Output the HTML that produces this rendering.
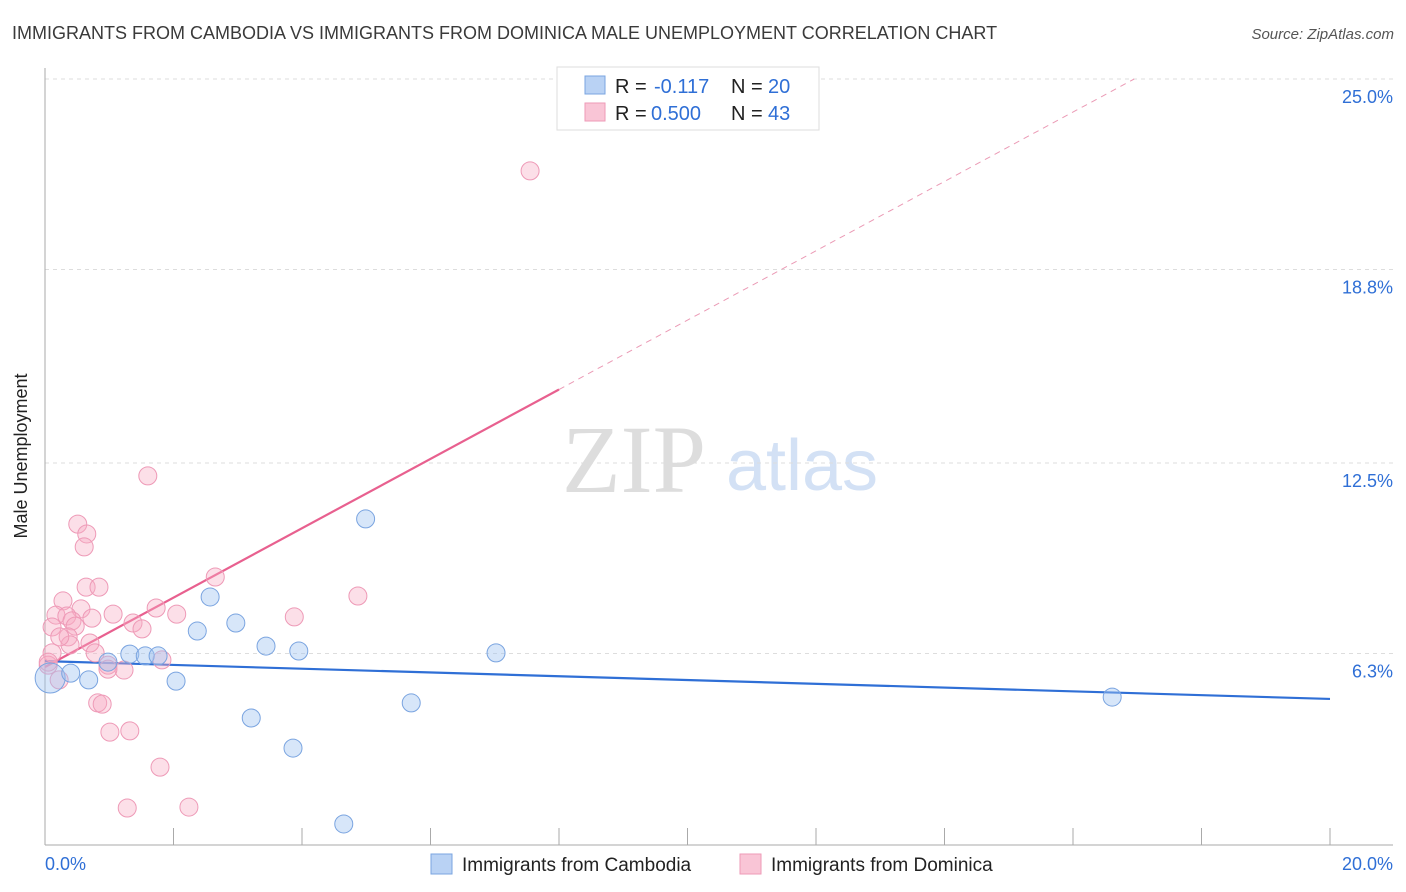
<!DOCTYPE html>
<html><head><meta charset="utf-8"><style>
body{margin:0;background:#fff;font-family:"Liberation Sans",sans-serif;}
svg{display:block}
</style></head><body>
<svg id="chart" width="1406" height="892" xmlns="http://www.w3.org/2000/svg">
<text x="12" y="39" font-size="18" fill="#3a3a3a">IMMIGRANTS FROM CAMBODIA VS IMMIGRANTS FROM DOMINICA MALE UNEMPLOYMENT CORRELATION CHART</text>
<text x="1394" y="39" font-size="15" fill="#555" font-style="italic" text-anchor="end">Source: ZipAtlas.com</text>
<text x="27" y="456" font-size="18" fill="#222" text-anchor="middle" transform="rotate(-90 27 456)">Male Unemployment</text>
<g>
<text x="634" y="492" font-size="96" fill="#ddd" font-family="Liberation Serif,serif" text-anchor="middle">ZIP</text>
<text x="802" y="490" font-size="72" fill="#d3e1f5" text-anchor="middle">atlas</text>
</g>
<g id="grid"></g><g id="axes"></g><g id="lines"></g><g id="pts"></g>
<g>
<rect x="557" y="67" width="262" height="63" fill="#fff" stroke="#ddd"/>
<rect x="585" y="76" width="20" height="18" fill="#b9d2f4" stroke="#7aa4e0"/>
<rect x="585" y="103" width="20" height="18" fill="#f9c5d6" stroke="#ee9ab7"/>
<text x="615" y="93" font-size="20" fill="#222">R =</text>
<text x="654" y="93" font-size="20" fill="#2f6fd6">-0.117</text>
<text x="731" y="93" font-size="20" fill="#222">N =</text>
<text x="768" y="93" font-size="20" fill="#2f6fd6">20</text>
<text x="615" y="120" font-size="20" fill="#222">R =</text>
<text x="651" y="120" font-size="20" fill="#2f6fd6">0.500</text>
<text x="731" y="120" font-size="20" fill="#222">N =</text>
<text x="768" y="120" font-size="20" fill="#2f6fd6">43</text>
</g>
<g>
<rect x="431" y="854" width="21" height="20" fill="#b9d2f4" stroke="#7aa4e0"/>
<text x="462" y="871" font-size="19" fill="#222">Immigrants from Cambodia</text>
<rect x="740" y="854" width="21" height="20" fill="#f9c5d6" stroke="#ee9ab7"/>
<text x="771" y="871" font-size="19" fill="#222">Immigrants from Dominica</text>
</g>
</svg>
<script>
const yTicks=[25.0,18.8,12.5,6.3];
const yTickLabels=["25.0%","18.8%","12.5%","6.3%"];
const xLabels=["0.0%","20.0%"];
const blueX=[0.08,0.40,0.68,0.98,1.32,1.56,1.76,2.04,2.37,2.57,2.97,3.21,3.44,3.86,3.95,4.65,4.99,5.70,7.02,16.61];
const blueY=[5.50,5.66,5.44,6.02,6.28,6.22,6.22,5.40,7.03,8.14,7.29,4.20,6.54,3.22,6.38,0.75,10.68,4.69,6.32,4.88];
const pinkX=[7.55,1.60,0.51,0.65,0.61,0.64,0.84,0.28,0.56,0.17,0.34,0.42,0.73,0.47,0.11,1.06,1.73,2.05,2.65,3.88,4.87,1.37,1.51,0.36,0.39,0.70,0.11,0.78,0.05,0.98,1.23,1.82,0.22,0.82,0.89,1.01,1.32,1.79,1.28,2.24,0.98,0.05,0.23];
const pinkY=[22.01,12.08,10.51,10.19,9.77,8.46,8.46,8.01,7.75,7.55,7.52,7.36,7.45,7.19,7.16,7.58,7.78,7.58,8.79,7.49,8.17,7.29,7.10,6.84,6.58,6.64,6.32,6.32,5.92,5.92,5.76,6.09,5.44,4.69,4.65,3.74,3.78,2.60,1.27,1.30,5.79,6.02,6.84];
const blueTrend=[6.05,4.82];
const pinkTrend=[5.86,1.129];
const X=v=>45+v/20*1285, Y=v=>847-v*30.72;
const NS="http://www.w3.org/2000/svg";
function mk(p,t,a){const e=document.createElementNS(NS,t);for(const k in a)e.setAttribute(k,a[k]);document.getElementById(p).appendChild(e);return e;}
yTicks.forEach((t,i)=>{
 const l=mk('grid','line',{x1:45,x2:1393,y1:Y(t),y2:Y(t),stroke:'#ddd','stroke-dasharray':'4,4'});
 
 
 const tx=mk('grid','text',{x:1393,y:Y(t)+24,'font-size':18,fill:'#2f6fd6','text-anchor':'end'});
 tx.textContent=yTickLabels[i];
 
 
});
const ax=mk('axes','line',{x1:45,x2:45,y1:68,y2:845,stroke:'#aaa'});


const bx=mk('axes','line',{x1:45,x2:1393,y1:845,y2:845,stroke:'#aaa'});


for(let i=0;i<=10;i++){const t=mk('axes','line',{x1:X(i*2),x2:X(i*2),y1:828,y2:845,stroke:'#aaa'});
 
 }
[[0,'start',45],[1,'end',1393]].forEach(([i,a,x])=>{const t=mk('axes','text',{x:x,y:870,'font-size':18,fill:'#2f6fd6','text-anchor':a});t.textContent=xLabels[i];
 
 });
function dot(x,y,r,f,s,n){const c=mk('pts','circle',{cx:X(x),cy:Y(y),r:r,fill:f,stroke:s,'stroke-width':1});
 
 }
pinkX.forEach((x,i)=>dot(x,pinkY[i],9,'rgba(246,170,195,0.38)','#ee9ab7','dominica-point'));
blueX.forEach((x,i)=>dot(x,blueY[i],i==0?15:9,'rgba(160,196,240,0.42)','#7aa4e0','cambodia-point'));
const bl=mk('lines','line',{x1:X(0),y1:Y(blueTrend[0]),x2:X(20),y2:Y(blueTrend[1]),stroke:'#2f6fd6','stroke-width':2.2});


const pe=8.0, pd=(25-pinkTrend[0])/pinkTrend[1];
const pl=mk('lines','line',{x1:X(0),y1:Y(pinkTrend[0]),x2:X(pe),y2:Y(pinkTrend[0]+pinkTrend[1]*pe),stroke:'#e8608f','stroke-width':2.2});


const pdl=mk('lines','line',{x1:X(pe),y1:Y(pinkTrend[0]+pinkTrend[1]*pe),x2:X(pd),y2:Y(25),stroke:'#eb9ab5','stroke-width':1,'stroke-dasharray':'6,5'});


</script>
</body></html>
